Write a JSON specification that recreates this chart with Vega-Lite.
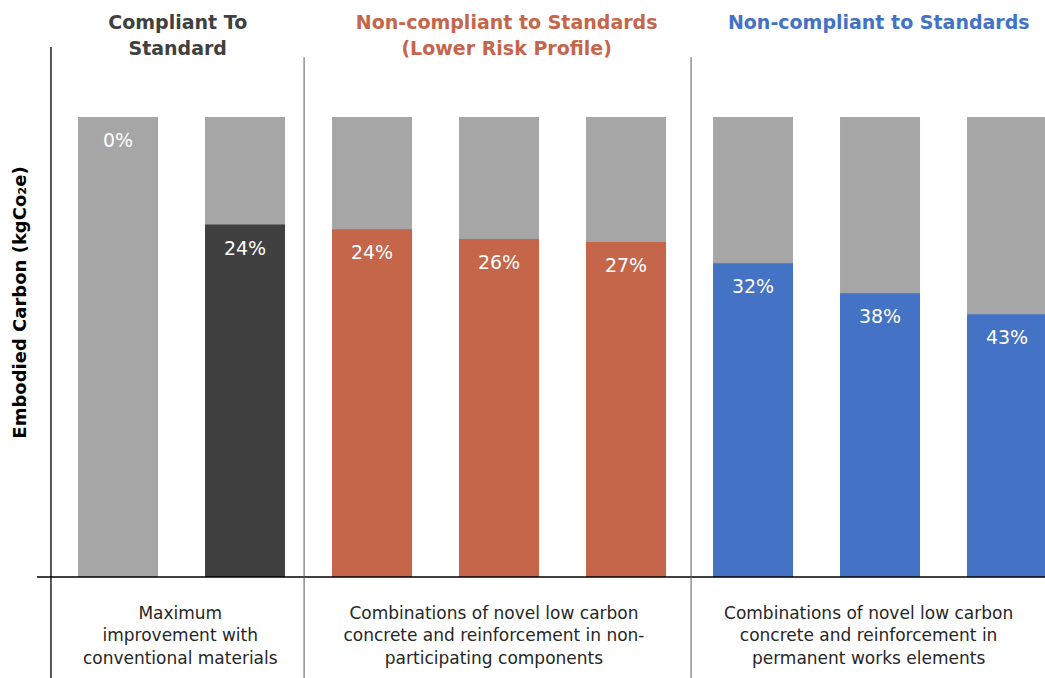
{
  "$schema": "https://vega.github.io/schema/vega-lite/v6.json",
  "width": 1008,
  "height": 678,
  "autosize": {"type": "none"},
  "padding": {"left": 37, "top": 0, "right": 0, "bottom": 0},
  "background": "white",
  "config": {"view": {"stroke": null}, "font": "DejaVu Sans"},
  "datasets": {
    "bars": [
      {"i": 0, "series": "Baseline", "remaining": 100, "label": "0%"},
      {"i": 1, "series": "Compliant", "remaining": 76.6, "label": "24%"},
      {"i": 2, "series": "Lower risk", "remaining": 75.6, "label": "24%"},
      {"i": 3, "series": "Lower risk", "remaining": 73.5, "label": "26%"},
      {"i": 4, "series": "Lower risk", "remaining": 72.8, "label": "27%"},
      {"i": 5, "series": "Non-compliant", "remaining": 68.2, "label": "32%"},
      {"i": 6, "series": "Non-compliant", "remaining": 61.7, "label": "38%"},
      {"i": 7, "series": "Non-compliant", "remaining": 57.1, "label": "43%"}
    ],
    "headers": [
      {"gx": 0.47, "series": "Compliant", "title": "Compliant To\nStandard"},
      {"gx": 3.06, "series": "Lower risk", "title": "Non-compliant to Standards\n(Lower Risk Profile)"},
      {"gx": 5.99, "series": "Non-compliant", "title": "Non-compliant to Standards"}
    ],
    "notes": [
      {"gx": 0.49, "note": "Maximum\nimprovement with\nconventional materials"},
      {"gx": 2.96, "note": "Combinations of novel low carbon\nconcrete and reinforcement in non-\nparticipating components"},
      {"gx": 5.91, "note": "Combinations of novel low carbon\nconcrete and reinforcement in\npermanent works elements"}
    ],
    "dividers": [{"gx": 1.465}, {"gx": 4.512}],
    "one": [{"k": 1}]
  },
  "layer": [
    {
      "data": {"name": "bars"},
      "mark": {"type": "bar", "width": 80, "color": "#A6A6A6"},
      "encoding": {
        "x": {"field": "i", "type": "quantitative", "scale": {"domain": [-0.638, 7.299], "nice": false, "zero": false, "padding": 0}, "axis": null},
        "y": {"datum": 100, "type": "quantitative", "scale": {"domain": [-21.96, 125.43], "nice": false, "zero": false, "padding": 0},
          "axis": {"domain": false, "ticks": false, "labels": false, "grid": false,
            "title": "Embodied Carbon (kgCo₂e)", "titleFont": "DejaVu Sans", "titleFontSize": 18, "titleFontWeight": "bold", "titleColor": "#000000",
            "titleX": -17, "titleY": 302, "titleAngle": -90, "titleBaseline": "middle", "titleAlign": "center"}},
        "y2": {"datum": 0}
      }
    },
    {
      "data": {"name": "bars"},
      "mark": {"type": "bar", "width": 80},
      "encoding": {
        "x": {"field": "i", "type": "quantitative"},
        "y": {"field": "remaining", "type": "quantitative"},
        "y2": {"datum": 0},
        "color": {"field": "series", "type": "nominal", "legend": null,
          "scale": {"domain": ["Baseline", "Compliant", "Lower risk", "Non-compliant"], "range": ["#A6A6A6", "#404040", "#C5654A", "#4472C4"]}}
      }
    },
    {
      "data": {"name": "bars"},
      "mark": {"type": "text", "color": "#FFFFFF", "fontSize": 19, "baseline": "middle", "dy": 24, "font": "DejaVu Sans"},
      "encoding": {
        "x": {"field": "i", "type": "quantitative"},
        "y": {"field": "remaining", "type": "quantitative"},
        "text": {"field": "label"}
      }
    },
    {
      "data": {"name": "one"},
      "mark": {"type": "rule", "color": "#000000", "strokeWidth": 1.3},
      "encoding": {"y": {"datum": 0}}
    },
    {
      "data": {"name": "one"},
      "mark": {"type": "rule", "color": "#000000", "strokeWidth": 1.3},
      "encoding": {"x": {"datum": -0.528}, "y": {"datum": 115.2}, "y2": {"datum": -21.96}}
    },
    {
      "data": {"name": "dividers"},
      "mark": {"type": "rule", "color": "#595959", "strokeWidth": 1},
      "encoding": {"x": {"field": "gx", "type": "quantitative"}, "y": {"datum": 113}, "y2": {"datum": -21.96}}
    },
    {
      "data": {"name": "headers"},
      "mark": {"type": "text", "fontSize": 19, "fontWeight": "bold", "baseline": "top", "align": "center", "lineBreak": "\n", "lineHeight": 26, "font": "DejaVu Sans"},
      "encoding": {
        "x": {"field": "gx", "type": "quantitative"},
        "y": {"datum": 122.4},
        "text": {"field": "title"},
        "color": {"field": "series", "type": "nominal", "legend": null}
      }
    },
    {
      "data": {"name": "notes"},
      "mark": {"type": "text", "fontSize": 17, "baseline": "top", "align": "center", "lineBreak": "\n", "lineHeight": 22.5, "color": "#262626", "font": "DejaVu Sans"},
      "encoding": {
        "x": {"field": "gx", "type": "quantitative"},
        "y": {"datum": -6.3},
        "text": {"field": "note"}
      }
    }
  ]
}
